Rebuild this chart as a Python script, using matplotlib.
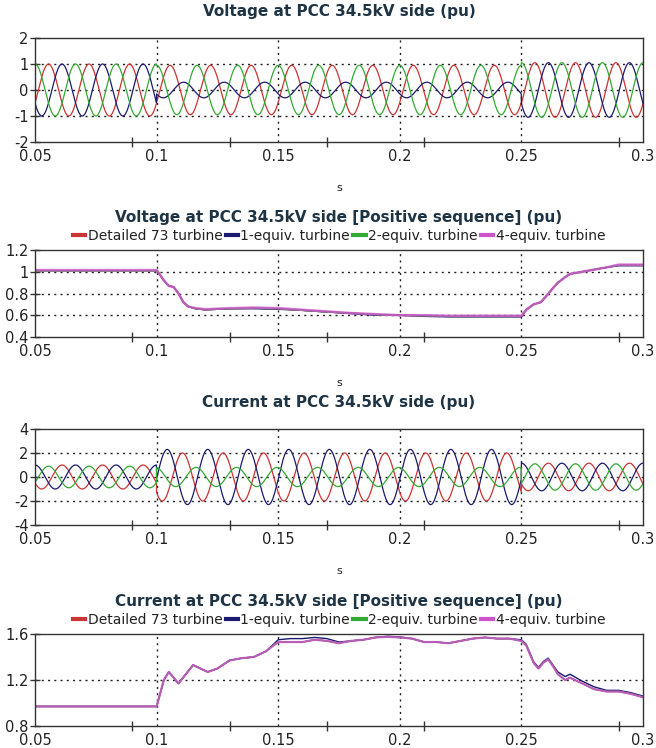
import numpy as np
import matplotlib
matplotlib.use("Agg")
import matplotlib.pyplot as plt
from matplotlib.ticker import FixedLocator

plt.rcParams['font.family'] = ['DejaVu Sans']

# ---------------- data ----------------
x_ticks = [0.05, 0.1, 0.15, 0.2, 0.25, 0.3]
x_tick_labels = ['0.05', '0.1', '0.15', '0.2', '0.25', '0.3']
x_minor_ticks = [0.09, 0.13, 0.17, 0.21, 0.25, 0.29]
fault_start, fault_end = 0.1, 0.25
freq_hz = 60

series_names = ['Detailed 73 turbine', '1-equiv. turbine', '2-equiv. turbine', '4-equiv. turbine']
series_colors = ['#cc3333', '#1a1a6e', '#33aa33', '#cc55cc']
phase_colors = ['#cc3333', '#1a1a6e', '#33aa33']   # red, navy, green phases

# Panel 1: phase voltages, amplitude [pre, fault, post] and phase angle (deg)
v_amp = {'red': [1.0, 0.95, 1.05], 'navy': [1.0, 0.30, 1.05], 'green': [1.0, 0.95, 1.05]}
v_phase = {'red': [-120, -120, -120], 'navy': [120, 120, 120], 'green': [0, 0, 0]}

# Panel 3: phase currents, amplitude [pre, fault, post] and phase angle (deg)
i_amp = {'red': [1.0, 2.0, 1.15], 'navy': [1.0, 2.3, 1.15], 'green': [0.9, 0.8, 1.1]}
i_phase = {'red': [120, 130, 120], 'navy': [0, -94, 0], 'green': [-120, 10, -120]}

# Panel 2: positive-sequence voltage (time, value)
vpos_t = [0.05, 0.1, 0.1005, 0.103, 0.105, 0.107, 0.109, 0.111, 0.113, 0.116, 0.12, 0.13,
          0.14, 0.15, 0.16, 0.17, 0.18, 0.19, 0.2, 0.21, 0.22, 0.23, 0.24, 0.25, 0.252,
          0.255, 0.258, 0.26, 0.263, 0.265, 0.268, 0.27, 0.275, 0.28, 0.285, 0.29, 0.3]
vpos_detailed = [1.01, 1.01, 1.0, 0.92, 0.87, 0.86, 0.80, 0.72, 0.68, 0.66, 0.65, 0.66,
                 0.665, 0.66, 0.645, 0.63, 0.62, 0.605, 0.60, 0.595, 0.59, 0.59, 0.59, 0.59, 0.65,
                 0.70, 0.72, 0.77, 0.85, 0.90, 0.95, 0.98, 1.0, 1.02, 1.04, 1.06, 1.06]
vpos_eq1 = [1.01, 1.01, 1.0, 0.92, 0.87, 0.86, 0.80, 0.72, 0.68, 0.66, 0.65, 0.66,
            0.66, 0.655, 0.645, 0.63, 0.615, 0.60, 0.60, 0.59, 0.585, 0.585, 0.585, 0.585, 0.65,
            0.70, 0.72, 0.77, 0.85, 0.90, 0.95, 0.98, 1.0, 1.02, 1.04, 1.055, 1.055]
vpos_eq2 = vpos_detailed
vpos_eq4 = [1.015, 1.015, 1.0, 0.92, 0.87, 0.86, 0.80, 0.72, 0.68, 0.665, 0.655, 0.665,
            0.67, 0.665, 0.65, 0.635, 0.62, 0.61, 0.60, 0.60, 0.595, 0.595, 0.595, 0.595, 0.65,
            0.70, 0.72, 0.77, 0.85, 0.90, 0.95, 0.98, 1.0, 1.02, 1.04, 1.065, 1.065]

# Panel 4: positive-sequence current (time, value)
ipos_t = [0.05, 0.1, 0.103, 0.105, 0.107, 0.109, 0.112, 0.115, 0.118, 0.121, 0.125, 0.13,
          0.135, 0.14, 0.145, 0.148, 0.15, 0.155, 0.16, 0.165, 0.17, 0.175, 0.18, 0.185,
          0.19, 0.195, 0.2, 0.205, 0.21, 0.215, 0.22, 0.225, 0.23, 0.235, 0.24, 0.245,
          0.25, 0.252, 0.255, 0.257, 0.259, 0.261, 0.263, 0.265, 0.268, 0.27, 0.275,
          0.28, 0.285, 0.29, 0.295, 0.3]
ipos_detailed = [0.97, 0.97, 1.20, 1.27, 1.22, 1.17, 1.25, 1.33, 1.30, 1.27, 1.30, 1.37,
                 1.39, 1.40, 1.45, 1.50, 1.53, 1.53, 1.53, 1.55, 1.54, 1.52, 1.54, 1.55,
                 1.57, 1.575, 1.57, 1.56, 1.53, 1.53, 1.52, 1.54, 1.56, 1.57, 1.56, 1.56,
                 1.54, 1.50, 1.35, 1.30, 1.35, 1.38, 1.32, 1.25, 1.20, 1.22, 1.17,
                 1.12, 1.10, 1.10, 1.08, 1.05]
ipos_eq1 = [0.97, 0.97, 1.20, 1.27, 1.22, 1.17, 1.25, 1.33, 1.30, 1.27, 1.30, 1.37,
            1.39, 1.40, 1.45, 1.51, 1.55, 1.56, 1.56, 1.57, 1.56, 1.53, 1.54, 1.55,
            1.57, 1.58, 1.575, 1.56, 1.53, 1.53, 1.52, 1.54, 1.56, 1.57, 1.56, 1.56,
            1.55, 1.51, 1.36, 1.31, 1.36, 1.39, 1.33, 1.27, 1.23, 1.25, 1.19,
            1.14, 1.11, 1.11, 1.09, 1.06]
ipos_eq2 = ipos_detailed
ipos_eq4 = ipos_detailed

# ---------------- figure ----------------
fig = plt.figure(figsize=(6.56, 7.48), dpi=100)
W, H = 656, 748

def ax_rect(top_px, bottom_px, left_px=35, right_px=643):
    return [left_px / W, 1 - bottom_px / H, (right_px - left_px) / W, (bottom_px - top_px) / H]

title_color = '#1e3444'
text_color = '#222222'
grid_kw = dict(color='#222222', linestyle=(0, (1.5, 3)), linewidth=1.0)

def style_axes(ax, yticks, ylabels, ylim, xlabel=True):
    ax.set_xlim(0.05, 0.3)
    ax.set_ylim(*ylim)
    ax.set_xticks(x_ticks)
    ax.set_xticklabels(x_tick_labels)
    ax.xaxis.set_minor_locator(FixedLocator(x_minor_ticks))
    ax.tick_params(axis='x', which='major', length=0, pad=5, labelsize=10.5, labelcolor=text_color)
    ax.tick_params(axis='x', which='minor', direction='inout', length=7, width=1, color='#333333')
    ax.set_yticks(yticks)
    ax.set_yticklabels(ylabels)
    ax.tick_params(axis='y', which='major', direction='inout', length=7, width=1,
                   color='#333333', labelsize=10.5, labelcolor=text_color, pad=1)
    for xv in x_ticks[1:-1]:
        ax.axvline(xv, zorder=0.5, **grid_kw)
    for yv in yticks[1:-1]:
        ax.axhline(yv, zorder=0.5, **grid_kw)
    for s in ax.spines.values():
        s.set_color('#333333')
        s.set_linewidth(1.0)
    if xlabel:
        ax.set_xlabel('s', fontsize=8, color=text_color, labelpad=14)

t = np.linspace(0.05, 0.3, 4001)

def phase_wave(amps, phases):
    seg = np.where(t < fault_start, 0, np.where(t < fault_end, 1, 2))
    a = np.array(amps)[seg]
    p = np.deg2rad(np.array(phases)[seg])
    return a * np.cos(2 * np.pi * freq_hz * t + p)

def legend(ax):
    handles = [plt.Line2D([], [], color=c, linewidth=3) for c in series_colors]
    ax.legend(handles, series_names, loc='lower center', bbox_to_anchor=(0.5, 1.0),
              ncol=4, frameon=False, fontsize=10, handlelength=0.9, handletextpad=0.15,
              columnspacing=0.25, borderaxespad=0.1, labelcolor=text_color)

# Panel 1
ax1 = fig.add_axes(ax_rect(38, 142))
for name, col in zip(['red', 'navy', 'green'], phase_colors):
    ax1.plot(t, phase_wave(v_amp[name], v_phase[name]), color=col, linewidth=0.9)
style_axes(ax1, [-2, -1, 0, 1, 2], ['-2', '-1', '0', '1', '2'], (-2, 2))
ax1.set_title('Voltage at PCC 34.5kV side (pu)', fontsize=11, fontweight='bold',
              color=title_color, pad=16)

# Panel 2
ax2 = fig.add_axes(ax_rect(250, 337))
for vals, col, lw in zip([vpos_detailed, vpos_eq1, vpos_eq2, vpos_eq4], series_colors,
                         [1.0, 1.0, 1.0, 1.8]):
    ax2.plot(vpos_t, vals, color=col, linewidth=lw, alpha=0.85 if lw > 1 else 1.0)
style_axes(ax2, [0.4, 0.6, 0.8, 1.0, 1.2], ['0.4', '0.6', '0.8', '1', '1.2'], (0.4, 1.2))
legend(ax2)
ax2.set_title('Voltage at PCC 34.5kV side [Positive sequence] (pu)', fontsize=11,
              fontweight='bold', color=title_color, pad=20)

# Panel 3
ax3 = fig.add_axes(ax_rect(429, 525))
for name, col in zip(['red', 'navy', 'green'], phase_colors):
    ax3.plot(t, phase_wave(i_amp[name], i_phase[name]), color=col, linewidth=0.9)
style_axes(ax3, [-4, -2, 0, 2, 4], ['-4', '-2', '0', '2', '4'], (-4, 4))
ax3.set_title('Current at PCC 34.5kV side (pu)', fontsize=11, fontweight='bold',
              color=title_color, pad=16)

# Panel 4
ax4 = fig.add_axes(ax_rect(634, 726))
for vals, col, lw in zip([ipos_detailed, ipos_eq1, ipos_eq2, ipos_eq4], series_colors,
                         [1.0, 1.0, 1.0, 1.6]):
    ax4.plot(ipos_t, vals, color=col, linewidth=lw, alpha=0.85 if lw > 1 else 1.0)
style_axes(ax4, [0.8, 1.2, 1.6], ['0.8', '1.2', '1.6'], (0.8, 1.6), xlabel=False)
legend(ax4)
ax4.set_title('Current at PCC 34.5kV side [Positive sequence] (pu)', fontsize=11,
              fontweight='bold', color=title_color, pad=20)

fig.savefig('out.png', dpi=100, facecolor='white')
